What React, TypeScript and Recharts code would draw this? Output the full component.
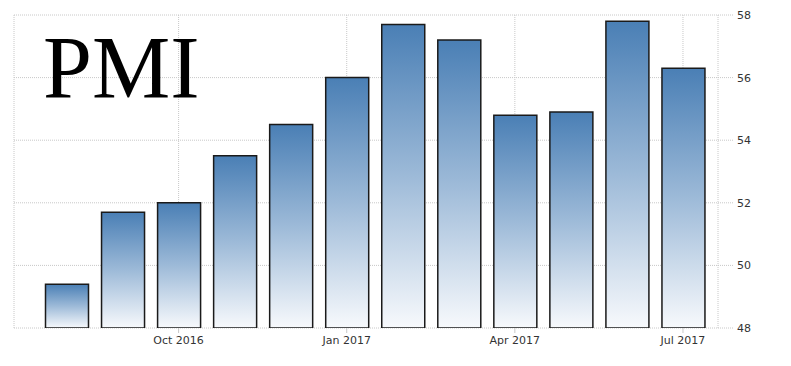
import { BarChart, Bar, XAxis, YAxis, CartesianGrid } from 'recharts';

const months = [
  'Aug 2016', 'Sep 2016', 'Oct 2016', 'Nov 2016', 'Dec 2016', 'Jan 2017',
  'Feb 2017', 'Mar 2017', 'Apr 2017', 'May 2017', 'Jun 2017', 'Jul 2017',
];
const pmi = [49.4, 51.7, 52.0, 53.5, 54.5, 56.0, 57.7, 57.2, 54.8, 54.9, 57.8, 56.3];
const xTicks = ['Oct 2016', 'Jan 2017', 'Apr 2017', 'Jul 2017'];
const yTicks = [48, 50, 52, 54, 56, 58];

const data = months.map((m, i) => ({ month: m, value: pmi[i] }));

const tickStyle = { fontFamily: 'DejaVu Sans', fontSize: 11, fill: '#333' };

export default function App() {
  return (
    <div style={{ position: 'absolute', left: 0, top: 0, width: 791, height: 366, background: '#fff' }}>
      <BarChart
        width={791}
        height={366}
        data={data}
        margin={{ top: 15, right: 13, bottom: 8, left: 14 }}
        barSize={43}
      >
        <defs>
          <linearGradient id="barFill" x1="0" y1="0" x2="0" y2="1">
            <stop offset="0%" stopColor="#4a7fb5" />
            <stop offset="50%" stopColor="#9dbad8" />
            <stop offset="100%" stopColor="#f7f9fc" />
          </linearGradient>
        </defs>
        <CartesianGrid stroke="#c8c8c8" strokeDasharray="1 1" />
        <XAxis
          dataKey="month"
          ticks={xTicks}
          height={30}
          axisLine={false}
          tickLine={{ stroke: '#c8c8c8' }}
          tickSize={5}
          tickMargin={3}
          padding={{ left: 24.5, right: 7 }}
          tick={tickStyle}
          interval={0}
        />
        <YAxis
          orientation="right"
          domain={[48, 58]}
          ticks={yTicks}
          width={60}
          axisLine={false}
          tickLine={{ stroke: '#c8c8c8', strokeDasharray: '1 1' }}
          tickSize={15}
          tickMargin={4}
          tick={tickStyle}
          allowDataOverflow
        />
        <Bar
          dataKey="value"
          fill="url(#barFill)"
          stroke="#1a1a1a"
          strokeWidth={1.5}
          isAnimationActive={false}
        />
      </BarChart>
      <svg width={791} height={366} style={{ position: 'absolute', left: 0, top: 0, pointerEvents: 'none' }}>
        <text x={43} y={97} fontFamily="Liberation Serif" fontSize={88} fill="#000">
          PMI
        </text>
      </svg>
    </div>
  );
}
